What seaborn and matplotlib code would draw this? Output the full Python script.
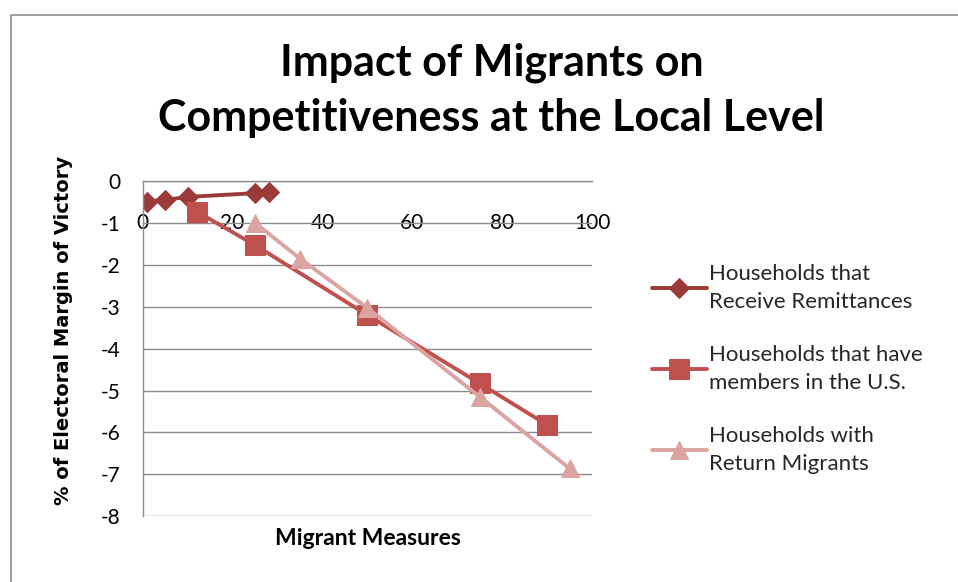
import matplotlib.pyplot as plt
import numpy as np
import pandas as pd
import seaborn as sns

# Datos
x_remesas = [1, 5, 10, 25, 28]
y_remesas = [-0.49, -0.45, -0.38, -0.29, -0.27]

x_miembros = [12, 25, 50, 75, 90]
y_miembros = [-0.73, -1.53, -3.2, -4.83, -5.82]

x_retorno = [25, 35, 50, 75, 95]
y_retorno = [-1.0, -1.85, -3.03, -5.15, -6.86]

series = ['Households that\nReceive Remittances',
          'Households that have\nmembers in the U.S.',
          'Households with\nReturn Migrants']
colores = ['#9B3B39', '#C0504D', '#DBA3A2']
marcadores = ['D', 's', '^']
tamanos = [10, 14, 13]

df = pd.concat([
    pd.DataFrame({'x': x_remesas, 'y': y_remesas, 'serie': series[0]}),
    pd.DataFrame({'x': x_miembros, 'y': y_miembros, 'serie': series[1]}),
    pd.DataFrame({'x': x_retorno, 'y': y_retorno, 'serie': series[2]}),
])

sns.set_style('white')
plt.rcParams['font.family'] = ['Lato', 'DejaVu Sans']
plt.rcParams['text.color'] = 'black'

fig = plt.figure(figsize=(9.58, 5.82), dpi=100)
ax = fig.add_axes([0.149, 0.113, 0.469, 0.576])

for s, c, m, ms in zip(series, colores, marcadores, tamanos):
    sub = df[df['serie'] == s]
    sns.lineplot(data=sub, x='x', y='y', ax=ax, color=c, marker=m,
                 markersize=ms, markeredgecolor=c, linewidth=2.8,
                 sort=False, label=s, estimator=None)

ax.set_xlim(0, 100)
ax.set_ylim(-8, 0)
ax.set_yticks(range(-8, 1))
ax.set_xticks(range(0, 101, 20))
ax.yaxis.grid(True, color='#8C8C8C', linewidth=1)
ax.xaxis.grid(False)
ax.set_axisbelow(True)

ax.spines['bottom'].set_position(('data', 0))
for lado in ['top', 'right']:
    ax.spines[lado].set_visible(False)
for lado in ['bottom', 'left']:
    ax.spines[lado].set_color('#8C8C8C')
    ax.spines[lado].set_linewidth(1)
ax.tick_params(axis='both', length=0, labelsize=15, colors='black')
ax.tick_params(axis='x', pad=23)
ax.tick_params(axis='y', pad=16)
ax.set_yticklabels([str(v) for v in range(-8, 1)])

ax.set_xlabel('')
ax.set_ylabel('')
fig.text(0.384, 0.075, 'Migrant Measures', ha='center', va='center',
         fontsize=16.5, fontweight='bold', color='black')
fig.text(0.066, 0.433, '% of Electoral Margin of Victory', ha='center',
         va='center', rotation=90, fontsize=14, fontweight='bold',
         family='DejaVu Sans', color='black')

fig.text(0.513, 0.893, 'Impact of Migrants on', ha='center', va='center',
         fontsize=31, fontweight='bold', color='black')
fig.text(0.513, 0.797, 'Competitiveness at the Local Level', ha='center',
         va='center', fontsize=31, fontweight='bold', color='black')

leg = ax.legend(loc='upper left', bbox_to_anchor=(1.113, 0.78), frameon=False,
                fontsize=16, handlelength=2.5, labelspacing=1.45,
                handletextpad=0.1, borderaxespad=0)
for t in leg.get_texts():
    t.set_linespacing(1.55)
    t.set_color('#262626')

# Marco del grafico
marco = plt.Rectangle((0.011, -0.01), 1.0, 0.985, transform=fig.transFigure,
                      fill=False, edgecolor='#8C8C8C', linewidth=1.2)
fig.add_artist(marco)

fig.savefig('out.png', dpi=100)
